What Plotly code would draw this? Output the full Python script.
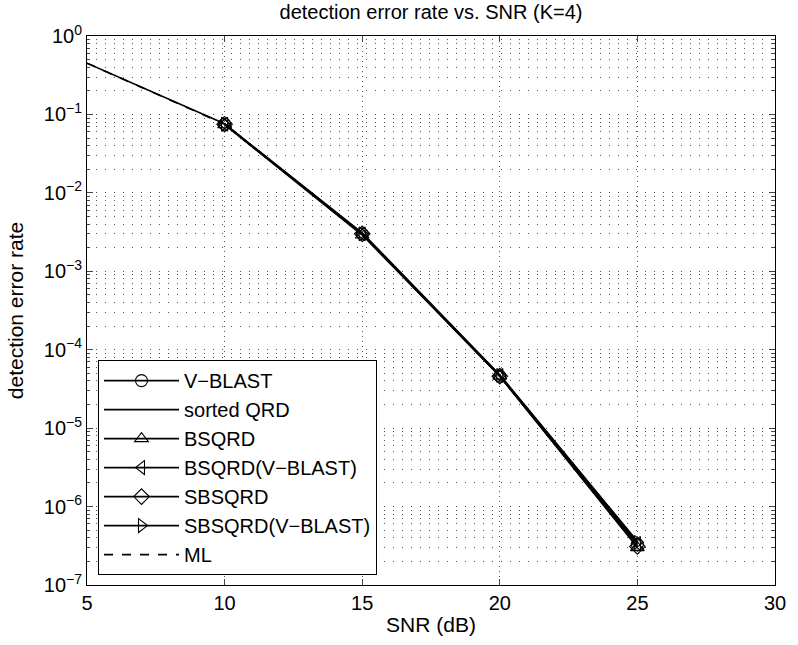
import plotly.graph_objects as go

snr_full = [5, 10, 15, 20, 25]
snr_mark = [10, 15, 20, 25]

vblast = [0.075, 0.0030, 4.6e-5, 3.3e-7]
sorted_qrd = [0.45, 0.076, 0.0031, 4.8e-5, 3.6e-7]
bsqrd = [0.074, 0.0029, 4.6e-5, 3.0e-7]
bsqrd_vb = [0.075, 0.0030, 4.7e-5, 3.4e-7]
sbsqrd = [0.075, 0.0030, 4.6e-5, 3.1e-7]
sbsqrd_vb = [0.075, 0.0030, 4.7e-5, 3.5e-7]
ml = [0.45, 0.075, 0.0030, 4.6e-5, 3.2e-7]

ytick_vals = [1e-7, 1e-6, 1e-5, 1e-4, 1e-3, 1e-2, 1e-1, 1e0]
ytick_text = ["10<sup>−7</sup>", "10<sup>−6</sup>", "10<sup>−5</sup>", "10<sup>−4</sup>",
              "10<sup>−3</sup>", "10<sup>−2</sup>", "10<sup>−1</sup>", "10<sup>0</sup>"]
xtick_vals = [5, 10, 15, 20, 25, 30]

fig = go.Figure()

def add(name, x, y, symbol=None, dash="solid"):
    kw = {}
    if symbol:
        kw["marker"] = dict(symbol=symbol, size=12, color="black",
                            line=dict(color="black", width=1.1))
    fig.add_trace(go.Scatter(
        x=x, y=y, name=name, mode="lines+markers" if symbol else "lines",
        line=dict(color="black", width=1.6, dash=dash), **kw,
    ))

add("V−BLAST", snr_mark, vblast, "circle-open")
add("sorted QRD", snr_full, sorted_qrd)
add("BSQRD", snr_mark, bsqrd, "triangle-up-open")
add("BSQRD(V−BLAST)", snr_mark, bsqrd_vb, "triangle-left-open")
add("SBSQRD", snr_mark, sbsqrd, "diamond-open")
add("SBSQRD(V−BLAST)", snr_mark, sbsqrd_vb, "triangle-right-open")
add("ML", snr_full, ml, dash="dash")

font = "Liberation Sans, Arial, Helvetica, sans-serif"

fig.update_layout(
    width=798, height=645,
    margin=dict(l=87, r=18, t=36, b=60),
    paper_bgcolor="white", plot_bgcolor="white",
    font=dict(family=font, size=21, color="black"),
    title=dict(text="detection error rate vs. SNR (K=4)", xref="paper", x=0.5,
               xanchor="center", y=0.982, yanchor="middle", font=dict(size=20)),
    showlegend=True,
    legend=dict(x=0.016, y=0.018, xanchor="left", yanchor="bottom",
                bgcolor="white", bordercolor="black", borderwidth=1,
                font=dict(size=20), itemwidth=75, tracegroupgap=0),
)
fig.update_xaxes(
    range=[5, 30], tickvals=xtick_vals, ticks="inside", ticklen=6,
    showline=True, linecolor="black", linewidth=1, mirror="ticks",
    showgrid=True, gridcolor="#555", griddash="1px,4px", gridwidth=1,
    zeroline=False, tickfont=dict(size=20),
    title=dict(text="SNR (dB)", standoff=4, font=dict(size=21)),
)
fig.update_yaxes(
    type="log", range=[-7, 0], tickvals=ytick_vals, ticktext=ytick_text,
    ticks="inside", ticklen=6,
    showline=True, linecolor="black", linewidth=1, mirror="ticks",
    showgrid=True, gridcolor="#555", griddash="1px,8px", gridwidth=1,
    minor=dict(dtick="D1", ticks="inside", ticklen=3, showgrid=True,
               gridcolor="#555", griddash="1px,8px", gridwidth=1),
    zeroline=False, tickfont=dict(size=20),
    title=dict(text="detection error rate", standoff=14, font=dict(size=21)),
)

fig.write_html("out.html")
